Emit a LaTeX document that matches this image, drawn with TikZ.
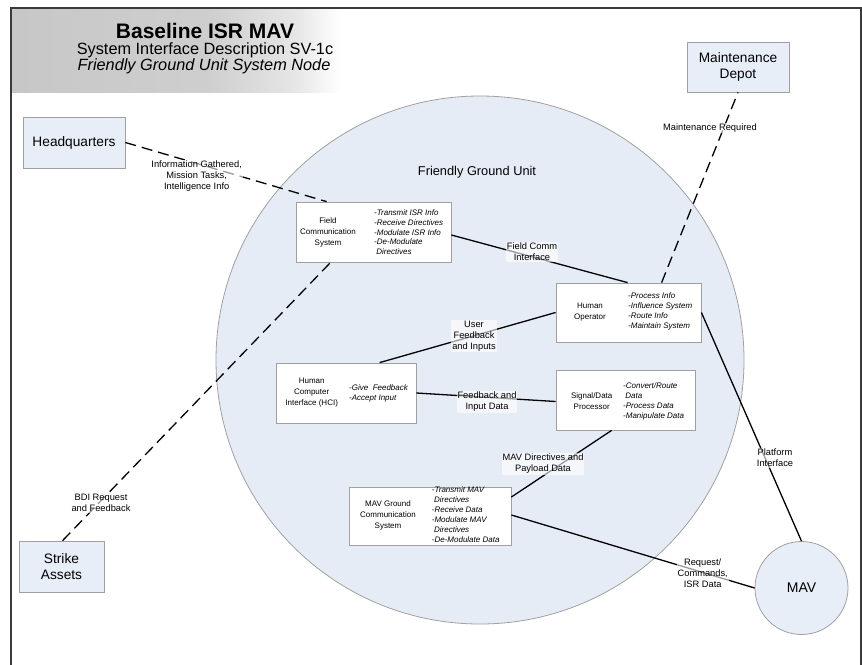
\documentclass[tikz,border=0pt]{standalone}
\usepackage{fontspec}
\setmainfont{Liberation Sans}
\usetikzlibrary{calc}
\definecolor{boxblue}{HTML}{E8EEF7}
\definecolor{circblue}{HTML}{E6ECF6}
\definecolor{edgegray}{HTML}{A0A0A0}
\definecolor{framegray}{HTML}{3A3A3A}
\pgfdeclarehorizontalshading{titleshade}{100bp}{color(0bp)=(black!22); color(25bp)=(black!22); color(55bp)=(black!19); color(68bp)=(black!10); color(75bp)=(white); color(100bp)=(white)}
\begin{document}
\begin{tikzpicture}[x=1pt,y=-1pt,
  extbox/.style={draw=edgegray, fill=boxblue, line width=0.8pt, inner sep=0pt, align=center, font=\fontsize{13.7}{16.5}\selectfont},
  sysbox/.style={draw=edgegray, fill=white, line width=0.8pt, inner sep=0pt},
  sysname/.style={align=center, font=\fontsize{8}{10.8}\selectfont, inner sep=0pt},
  funclist/.style={align=left, anchor=west, font=\fontsize{8}{9.9}\selectfont\itshape, inner sep=0pt},
  lbl/.style={align=center, font=\fontsize{9.3}{11}\selectfont, fill=white, fill opacity=0.6, text opacity=1, inner sep=1pt},
  link/.style={line width=1.3pt, black},
  dlink/.style={line width=1.3pt, black, dash pattern=on 11pt off 6pt},
]
\useasboundingbox (0,0) rectangle (862,664);
% title
\shade[shading=titleshade] (12,9) rectangle (340,92);
\draw[framegray, line width=1.6pt] (11,670) -- (11,8) -- (861,8) -- (861,670);
\node[font=\fontsize{21}{24}\bfseries] (t1) at (205,31) {Baseline ISR MAV};
\node[font=\fontsize{16.3}{19}\selectfont] (t2) at (205,50) {System Interface Description SV-1c};
\node[font=\fontsize{16.3}{19}\selectfont\itshape] (t3) at (204,66) {Friendly Ground Unit System Node};
% big circle
\node[circle, draw=edgegray, fill=circblue, line width=0.8pt, minimum size=528pt, inner sep=0pt] (fgu) at (480,360) {};
\node[font=\fontsize{12.8}{15}\selectfont] (fgulbl) at (477,172) {Friendly Ground Unit};
% external nodes
\node[extbox, minimum width=102pt, minimum height=51pt] (hq) at (74,142.5) {Headquarters};
\node[extbox, minimum width=102pt, minimum height=50pt] (md) at (738,67) {Maintenance\\Depot};
\node[extbox, minimum width=85pt, minimum height=51pt] (sa) at (61.5,566.5) {Strike\\Assets};
\node[circle, draw=edgegray, fill=boxblue, line width=0.8pt, minimum size=93pt, inner sep=0pt, font=\fontsize{14}{17}\selectfont] (mav) at (801.5,588) {MAV};
% system boxes
\node[sysbox, minimum width=155pt, minimum height=60pt] (fcs) at (373.5,232) {};
\node[sysbox, minimum width=145pt, minimum height=59pt] (ho) at (628.5,312.5) {};
\node[sysbox, minimum width=140pt, minimum height=60pt] (hci) at (346,393) {};
\node[sysbox, minimum width=139pt, minimum height=60pt] (sdp) at (625.5,400) {};
\node[sysbox, minimum width=162pt, minimum height=58pt] (mgc) at (430,516) {};
% box texts
\node[sysname] (fcsn) at (328,232.5) {Field\\Communication\\System};
\node[funclist] (fcsl) at (374,232.2) {-Transmit ISR Info\\-Receive Directives\\-Modulate ISR Info\\-De-Modulate\\\ Directives};
\node[sysname] (hon) at (590,312) {Human\\Operator};
\node[funclist] (hol) at (628,311.7) {-Process Info\\-Influence System\\-Route Info\\-Maintain System};
\node[sysname] (hcin) at (311.7,392.5) {Human\\Computer\\Interface (HCI)};
\node[funclist] (hcil) at (349,393.3) {-Give\ \ Feedback\\-Accept Input};
\node[sysname] (sdpn) at (591.7,400.8) {Signal/Data\\Processor};
\node[funclist] (sdpl) at (623,401.7) {-Convert/Route\\\ Data\\-Process Data\\-Manipulate Data};
\node[sysname] (mgcn) at (388,515.5) {MAV Ground\\Communication\\System};
\node[funclist] (mgcl) at (431.7,514.7) {-Transmit MAV\\\ Directives\\-Receive Data\\-Modulate MAV\\\ Directives\\-De-Modulate Data};
% connectors
\draw[dlink] (hq.east) -- ([xshift=31pt]fcs.north west);
\draw[dlink] ([xshift=44pt]sa.north west) -- ([xshift=35pt]fcs.south west);
\draw[dlink] ([xshift=106pt]ho.north west) -- (md.south);
\draw[link] ([yshift=-3pt]fcs.east) -- ([xshift=72pt]ho.north west);
\draw[link] ([xshift=104pt]hci.north west) -- (ho.west);
\draw[link] (hci.east) -- ([yshift=-1.5pt]sdp.west);
\draw[link] ([xshift=56pt]sdp.south west) -- ([yshift=19pt]mgc.east);
\draw[link] ([yshift=1pt]mgc.east) -- (mav.west);
\draw[link] (ho.east) -- (mav.north);
% labels
\node[lbl] (l1) at (196.7,176) {Information Gathered,\\Mission Tasks,\\Intelligence Info};
\node[lbl] (l2) at (532,252) {Field Comm\\Interface};
\node[lbl] (l3) at (474,336) {User\\Feedback\\and Inputs};
\node[lbl] (l4) at (487,402) {Feedback and\\Input Data};
\node[lbl] (l5) at (543,464) {MAV Directives and\\Payload Data};
\node[lbl] (l6) at (702.7,573) {Request/\\Commands,\\ISR Data};
\node[lbl] (l7) at (775,458) {Platform\\Interface};
\node[lbl] (l8) at (710,128) {Maintenance Required};
\node[lbl] (l9) at (101,503) {BDI Request\\and Feedback};
\end{tikzpicture}
\end{document}
